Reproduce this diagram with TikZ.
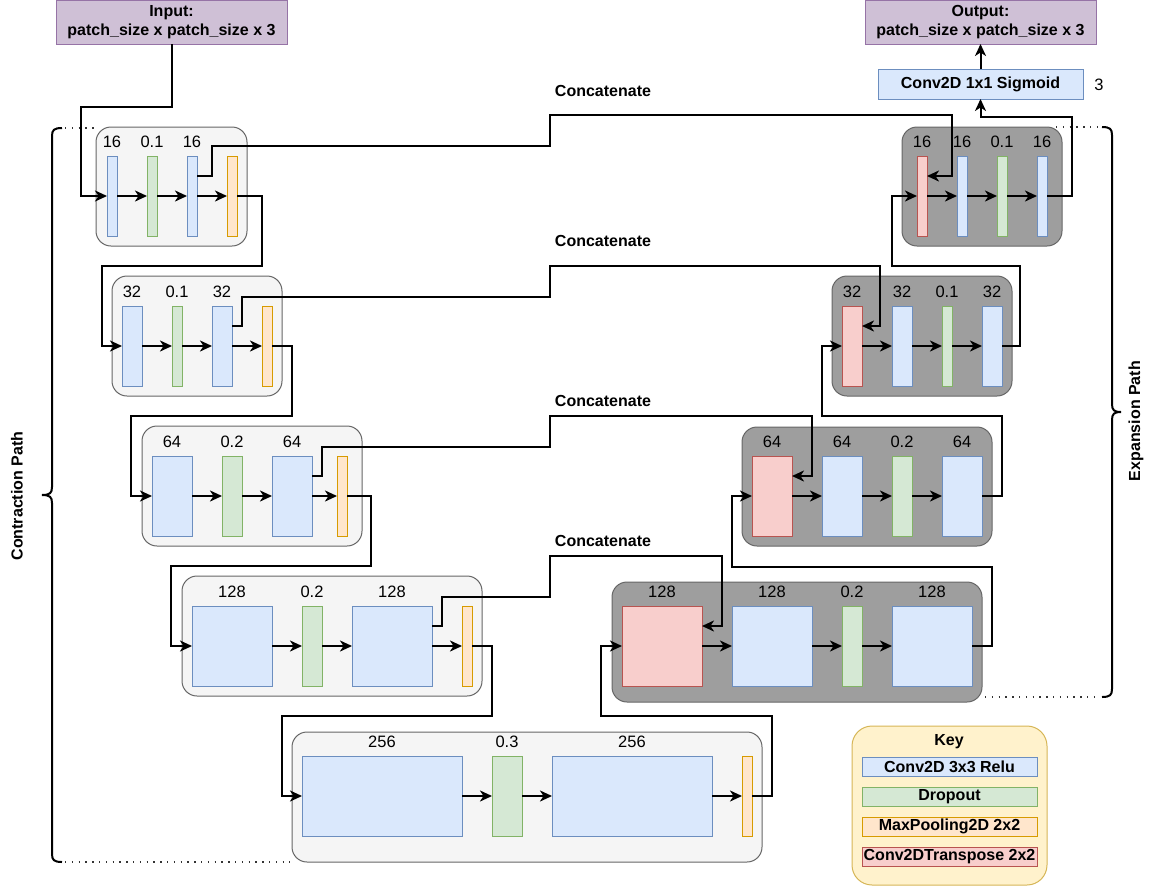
\documentclass[tikz,border=0pt]{standalone}
\usepackage{fontspec}
\setmainfont{Liberation Sans}
\usetikzlibrary{arrows.meta}
\definecolor{bfill}{HTML}{DAE8FC}\definecolor{bline}{HTML}{6C8EBF}
\definecolor{gfill}{HTML}{D5E8D4}\definecolor{gline}{HTML}{82B366}
\definecolor{ofill}{HTML}{FFE6CC}\definecolor{oline}{HTML}{D79B00}
\definecolor{rfill}{HTML}{F8CECC}\definecolor{rline}{HTML}{B85450}
\definecolor{pfill}{HTML}{CFC0D6}\definecolor{pline}{HTML}{9673A6}
\definecolor{kfill}{HTML}{FFF2CC}\definecolor{kline}{HTML}{D6B656}
\definecolor{lcont}{HTML}{F5F5F5}\definecolor{dcont}{HTML}{9E9E9E}
\definecolor{cline}{HTML}{666666}
\newcommand\blk[6]{\node[#2, minimum width={(#5)-(#3)}, minimum height={(#6)-(#4)}] (#1) at ({((#3)+(#5))/2},{((#4)+(#6))/2}) {};}
\begin{document}
\begin{tikzpicture}[x=1pt,y=-1pt,
  font=\fontsize{16.5}{19.5}\selectfont,
  base/.style={inner sep=0pt, outer sep=0pt, line width=1pt},
  bluebar/.style={base, draw=bline, fill=bfill},
  greenbar/.style={base, draw=gline, fill=gfill},
  orangebar/.style={base, draw=oline, fill=ofill},
  redbar/.style={base, draw=rline, fill=rfill},
  lightcont/.style={base, draw=cline, fill=lcont, rounded corners=15pt},
  darkcont/.style={base, draw=cline, fill=dcont, rounded corners=15pt},
  iobox/.style={base, draw=pline, fill=pfill},
  keybox/.style={base, draw=kline, fill=kfill, rounded corners=20pt},
  lab/.style={inner sep=0pt},
  boldlab/.style={inner sep=0pt, font=\fontsize{16}{19}\selectfont\bfseries},
  conn/.style={line width=2pt, -{Stealth[length=12pt,width=11pt,inset=3.5pt]}},
  plain/.style={line width=2pt},
  dots/.style={line width=1.3pt, dash pattern=on 1.3pt off 5.5pt, black!80},
]
\useasboundingbox (0,0) rectangle (1152,887);

% containers
\blk{C1}{lightcont}{96}{127}{247}{246}
\blk{C2}{lightcont}{112}{276}{282}{396}
\blk{C3}{lightcont}{142}{426}{362}{546}
\blk{C4}{lightcont}{182}{576}{482}{696}
\blk{C5}{lightcont}{292}{732}{762}{862}
\blk{E4}{darkcont}{612}{582}{982}{702}
\blk{E3}{darkcont}{742}{427}{992}{546}
\blk{E2}{darkcont}{832}{276}{1012}{396}
\blk{E1}{darkcont}{902}{127}{1062}{246}

% contraction bars
\blk{c1a}{bluebar}{107}{156}{117}{236}
\blk{c1b}{greenbar}{147}{156}{157}{236}
\blk{c1c}{bluebar}{187}{156}{197}{236}
\blk{c1d}{orangebar}{227}{156}{237}{236}
\node[lab] (t1a) at (112,142) {16};
\node[lab] (t1b) at (152,142) {0.1};
\node[lab] (t1c) at (192,142) {16};

\blk{c2a}{bluebar}{122}{306}{142}{386}
\blk{c2b}{greenbar}{172}{306}{182}{386}
\blk{c2c}{bluebar}{212}{306}{232}{386}
\blk{c2d}{orangebar}{262}{306}{272}{386}
\node[lab] (t2a) at (132,292) {32};
\node[lab] (t2b) at (177,292) {0.1};
\node[lab] (t2c) at (222,292) {32};

\blk{c3a}{bluebar}{152}{456}{192}{536}
\blk{c3b}{greenbar}{222}{456}{242}{536}
\blk{c3c}{bluebar}{272}{456}{312}{536}
\blk{c3d}{orangebar}{337}{456}{347}{536}
\node[lab] (t3a) at (172,442) {64};
\node[lab] (t3b) at (232,442) {0.2};
\node[lab] (t3c) at (292,442) {64};

\blk{c4a}{bluebar}{192}{606}{272}{686}
\blk{c4b}{greenbar}{302}{606}{322}{686}
\blk{c4c}{bluebar}{352}{606}{432}{686}
\blk{c4d}{orangebar}{462}{606}{472}{686}
\node[lab] (t4a) at (232,592) {128};
\node[lab] (t4b) at (312,592) {0.2};
\node[lab] (t4c) at (392,592) {128};

\blk{c5a}{bluebar}{302}{756}{462}{836}
\blk{c5b}{greenbar}{492}{756}{522}{836}
\blk{c5c}{bluebar}{552}{756}{712}{836}
\blk{c5d}{orangebar}{742}{756}{752}{836}
\node[lab] (t5a) at (382,742) {256};
\node[lab] (t5b) at (507,742) {0.3};
\node[lab] (t5c) at (632,742) {256};

% expansion bars
\blk{e4a}{redbar}{622}{606}{702}{686}
\blk{e4b}{bluebar}{732}{606}{812}{686}
\blk{e4c}{greenbar}{842}{606}{862}{686}
\blk{e4d}{bluebar}{892}{606}{972}{686}
\node[lab] (s4a) at (662,592) {128};
\node[lab] (s4b) at (772,592) {128};
\node[lab] (s4c) at (852,592) {0.2};
\node[lab] (s4d) at (932,592) {128};

\blk{e3a}{redbar}{752}{456}{792}{536}
\blk{e3b}{bluebar}{822}{456}{862}{536}
\blk{e3c}{greenbar}{892}{456}{912}{536}
\blk{e3d}{bluebar}{942}{456}{982}{536}
\node[lab] (s3a) at (772,442) {64};
\node[lab] (s3b) at (842,442) {64};
\node[lab] (s3c) at (902,442) {0.2};
\node[lab] (s3d) at (962,442) {64};

\blk{e2a}{redbar}{842}{306}{862}{386}
\blk{e2b}{bluebar}{892}{306}{912}{386}
\blk{e2c}{greenbar}{942}{306}{952}{386}
\blk{e2d}{bluebar}{982}{306}{1002}{386}
\node[lab] (s2a) at (852,292) {32};
\node[lab] (s2b) at (902,292) {32};
\node[lab] (s2c) at (947,292) {0.1};
\node[lab] (s2d) at (992,292) {32};

\blk{e1a}{redbar}{917}{156}{927}{236}
\blk{e1b}{bluebar}{957}{156}{967}{236}
\blk{e1c}{greenbar}{997}{156}{1007}{236}
\blk{e1d}{bluebar}{1037}{156}{1047}{236}
\node[lab] (s1a) at (922,142) {16};
\node[lab] (s1b) at (962,142) {16};
\node[lab] (s1c) at (1002,142) {0.1};
\node[lab] (s1d) at (1042,142) {16};

% io boxes
\blk{in}{iobox}{56}{0}{287}{44}
\node[boldlab, align=center] (intext) at (in.center) {Input:\\patch\_size x patch\_size x 3};
\blk{out}{iobox}{865}{0}{1096}{44}
\node[boldlab, align=center] (outtext) at (out.center) {Output:\\patch\_size x patch\_size x 3};
\blk{sig}{bluebar}{878}{69}{1083}{99}
\node[boldlab] (sigtext) at (sig.center) {Conv2D 1x1 Sigmoid};
\node[lab] (sigch) at (1099,85) {3};

% key
\blk{key}{keybox}{852}{726}{1047}{885}
\node[boldlab] (keytitle) at (949,742) {Key};
\blk{k1}{bluebar}{862}{757}{1037}{776}
\node[boldlab] (k1t) at (k1.center) {Conv2D 3x3 Relu};
\blk{k2}{greenbar}{862}{787}{1037}{806}
\node[boldlab] (k2t) at (k2.center) {Dropout};
\blk{k3}{orangebar}{862}{817}{1037}{836}
\node[boldlab] (k3t) at (k3.center) {MaxPooling2D 2x2};
\blk{k4}{redbar}{862}{847}{1037}{866}
\node[boldlab] (k4t) at (k4.center) {Conv2DTranspose 2x2};

% concatenate labels
\node[boldlab] (cat1) at (603,91) {Concatenate};
\node[boldlab] (cat2) at (603,241) {Concatenate};
\node[boldlab] (cat3) at (603,401) {Concatenate};
\node[boldlab] (cat4) at (603,541) {Concatenate};

% inner arrows
\foreach \p in {c1,c2,c3,c4,c5,e1,e2,e3,e4}{
  \draw[conn] (\p a.east) -- (\p b.west);
  \draw[conn] (\p b.east) -- (\p c.west);
  \draw[conn] (\p c.east) -- (\p d.west);
}

% main flow
\draw[conn] (in.south) |- (81,107) |- (c1a.west);
\draw[conn] (c1d.east) -| (262,266) -- (102,266) |- (c2a.west);
\draw[conn] (c2d.east) -| (292,416) -- (131,416) |- (c3a.west);
\draw[conn] (c3d.east) -| (371,566) -- (171,566) |- (c4a.west);
\draw[conn] (c4d.east) -| (492,716) -- (282,716) |- (c5a.west);
\draw[conn] (c5d.east) -| (772,716) -- (601,716) |- (e4a.west);
\draw[conn] (e4d.east) -| (992,567) -- (732,567) |- (e3a.west);
\draw[conn] (e3d.east) -| (1002,416) -- (822,416) |- (e2a.west);
\draw[conn] (e2d.east) -| (1020,266) -- (892,266) |- (e1a.west);
\draw[conn] (e1d.east) -| (1072,117) -| (sig.south);
\draw[conn] (sig.north) -- (out.south);

% concatenations
\draw[conn] ([yshift=20pt]c1c.east) -- ++(15,0) |- (550,146) |- (952,115) |- ([yshift=20pt]e1a.east);
\draw[conn] ([yshift=20pt]c2c.east) -- ++(10,0) |- (550,297) |- (880,266) |- ([yshift=20pt]e2a.east);
\draw[conn] ([yshift=20pt]c3c.east) -- ++(10,0) |- (550,447) |- (812,416) |- ([yshift=20pt]e3a.east);
\draw[conn] ([yshift=20pt]c4c.east) -- ++(10,0) |- (550,597) |- (722,556) |- ([yshift=20pt]e4a.east);

% braces
\draw[plain] (62,128) .. controls (54,128) and (52,130) .. (52,136) -- (52,487)
  .. controls (52,493) and (50,495) .. (42,495) .. controls (50,495) and (52,497) .. (52,503)
  -- (52,854) .. controls (52,860) and (54,862) .. (62,862);
\draw[dots] (65,128) -- (96,128);
\draw[dots] (65,862) -- (290,862);
\draw[plain] (1102,127) .. controls (1110,127) and (1112,129) .. (1112,135) -- (1112,404)
  .. controls (1112,410) and (1114,412) .. (1121,412) .. controls (1114,412) and (1112,414) .. (1112,420)
  -- (1112,689) .. controls (1112,695) and (1110,697) .. (1102,697);
\draw[dots] (1056,127) -- (1100,127);
\draw[dots] (985,697) -- (1100,697);
\node[boldlab, rotate=90] (contr) at (17,496) {Contraction Path};
\node[boldlab, rotate=90] (expa) at (1136,421) {Expansion Path};
\end{tikzpicture}
\end{document}
